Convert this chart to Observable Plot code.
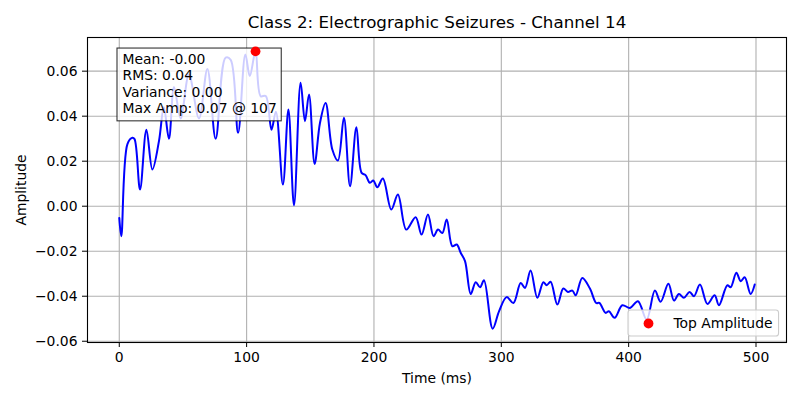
<!DOCTYPE html>
<html><head><meta charset="utf-8">
<script src="https://cdn.jsdelivr.net/npm/d3@7"></script>
<script src="https://cdn.jsdelivr.net/npm/@observablehq/plot@0.6"></script>
<style>body{margin:0;background:#fff;}</style>
</head><body><div id="chart"></div>
<script>
const titleText = "Class 2: Electrographic Seizures - Channel 14";
const xLabel = "Time (ms)";
const yLabel = "Amplitude";
const tMs = [0,1.6,6.4,10.3,12,16.3,21.3,26,31.2,35,39,43,48.2,54.7,62.6,69.2,75.7,83.5,87.5,93.3,99,102.5,107,111,115,119.5,123,128.5,132.8,137.2,142.4,145.8,149,153.4,157.6,162,167.3,171.7,176.4,181.2,186.2,190.3,193.4,196.8,199.5,202.6,207,213.6,218.8,225.4,232.7,237.4,242.4,246.8,250.3,253.7,257.1,261.6,265,268.1,271.5,276,279.9,283.3,286.4,293.2,298.2,304.2,309.5,315.2,318.6,323,328.3,333,335.6,338.7,344,348.7,352.3,355.8,358.4,363.6,369.6,374.5,377,381.9,384.5,389,395,401,407.3,414.1,420.6,425.1,431.2,435.6,439.5,443.4,447.9,451.3,456,461.8,467.5,470.9,477.5,480.1,484.6,488,491.1,495.8,499];
const amp = [-0.0052,-0.0133,0.0276,0.0304,0.0298,0.0074,0.034,0.0163,0.029,0.044,0.030,0.053,0.039,0.0585,0.039,0.061,0.030,0.066,0.065,0.0326,0.0674,0.0578,0.0688,0.0489,0.049,0.034,0.042,0.0096,0.043,0.0004,0.0548,0.0378,0.0496,0.0188,0.037,0.0459,0.0252,0.0203,0.0393,0.0089,0.0351,0.0148,0.0138,0.0104,0.0114,0.0084,0.0123,-0.0015,0.0052,-0.0104,-0.0049,-0.0126,-0.0037,-0.0133,-0.0104,-0.0119,-0.0059,-0.0178,-0.017,-0.0207,-0.0244,-0.039,-0.0338,-0.036,-0.0329,-0.0544,-0.0467,-0.0404,-0.043,-0.0341,-0.0363,-0.0286,-0.0407,-0.0338,-0.0351,-0.0336,-0.0437,-0.0366,-0.0381,-0.0375,-0.0396,-0.0319,-0.0366,-0.043,-0.043,-0.0474,-0.0467,-0.0496,-0.044,-0.0452,-0.0422,-0.0504,-0.0375,-0.0425,-0.0345,-0.0419,-0.039,-0.0407,-0.0381,-0.04,-0.0348,-0.0434,-0.0396,-0.044,-0.0351,-0.036,-0.0296,-0.0333,-0.0316,-0.039,-0.0348];
const xTicks = [0,100,200,300,400,500];
const yTicks = [-0.06,-0.04,-0.02,0,0.02,0.04,0.06];
const statsLines = ["Mean: -0.00","RMS: 0.04","Variance: 0.00","Max Amp: 0.07 @ 107"];
const legendLabels = ["Top Amplitude"];

const data = tMs.map((t,i)=>({t, a: amp[i]}));
const peak = data[d3.maxIndex(data, d=>d.a)];
const [ymin,ymax] = d3.extent(amp); const ypad = (ymax-ymin)*0.05;
const [xmin,xmax] = d3.extent(tMs); const xpad = (xmax-xmin)*0.05;
const font = "DejaVu Sans, sans-serif";
const fs = 13.9;

const svg = Plot.plot({
  width: 800, height: 400,
  marginLeft: 87, marginRight: 14, marginTop: 37, marginBottom: 58,
  style: {fontFamily: font, fontSize: fs+"px", background: "white", color: "black", overflow: "visible"},
  x: {domain: [xmin-xpad, xmax+xpad]},
  y: {domain: [ymin-ypad, ymax+ypad]},
  marks: [
    Plot.gridX(xTicks, {stroke: "#b0b0b0", strokeOpacity: 1, strokeWidth: 1.1}),
    Plot.gridY(yTicks, {stroke: "#b0b0b0", strokeOpacity: 1, strokeWidth: 1.1}),
    Plot.axisX(xTicks, {tickSize: 5, tickPadding: 5, fontSize: fs, label: null, stroke: "black", fill: "black"}),
    Plot.axisY(yTicks, {tickSize: 5, tickPadding: 5, fontSize: fs, label: null, tickFormat: d3.format(".2f"), stroke: "black", fill: "black"}),
    Plot.line(data, {x: "t", y: "a", stroke: "blue", strokeWidth: 2, curve: "catmull-rom"}),
    Plot.text([statsLines.join("\n")], {text: d=>d, frameAnchor: "top-left", dx: 35, dy: 15, lineAnchor: "top", textAnchor: "start", lineHeight: 1.17, fontSize: fs, fill: "black"}),
    Plot.dot([peak], {x: "t", y: "a", r: 4.9, fill: "red", stroke: "none"}),
    Plot.dot(legendLabels, {frameAnchor: "bottom-right", dx: -138, dy: -19, r: 4.9, fill: "red", stroke: "none"}),
    Plot.text(legendLabels, {text: d=>d, frameAnchor: "bottom-right", dx: -113, dy: -19, textAnchor: "start", lineAnchor: "middle", fontSize: fs, fill: "black"}),
    Plot.text([titleText], {text: d=>d, frameAnchor: "top", dy: -15, lineAnchor: "middle", fontSize: 16.7, fill: "black"}),
    Plot.text([xLabel], {text: d=>d, frameAnchor: "bottom", dy: 36, lineAnchor: "middle", fontSize: fs, fill: "black"}),
    Plot.text([yLabel], {text: d=>d, frameAnchor: "left", dx: -66, rotate: -90, lineAnchor: "middle", textAnchor: "middle", fontSize: fs, fill: "black"}),
    Plot.frame({stroke: "black", strokeWidth: 1.1})
  ]
});
document.getElementById("chart").append(svg);

const NS = "http://www.w3.org/2000/svg";
function topLevel(node) {
  while (node.parentNode && node.parentNode !== svg) node = node.parentNode;
  return node;
}
function boxBefore(node, x, y, w, h, attrs) {
  const r = document.createElementNS(NS, "rect");
  r.setAttribute("x", x); r.setAttribute("y", y);
  r.setAttribute("width", w); r.setAttribute("height", h);
  for (const k in attrs) r.setAttribute(k, attrs[k]);
  svg.insertBefore(r, node);
}
function findText(s) {
  return Array.from(svg.querySelectorAll("text")).find(t => t.textContent.includes(s));
}
function rectOf(el) {
  const s = svg.getBoundingClientRect(), r = el.getBoundingClientRect();
  return {x: r.left - s.left, y: r.top - s.top, width: r.width, height: r.height};
}
try {
  const st = findText(statsLines[0]);
  const b = rectOf(st);
  boxBefore(topLevel(st), b.x-5.5, b.y-3, b.width+10, b.height+8, {fill: "white", "fill-opacity": 0.8, stroke: "black", "stroke-opacity": 0.8, "stroke-width": 1.1});
  const lt = findText(legendLabels[0]);
  const lb = rectOf(lt);
  const lg = topLevel(lt);
  const dotG = lg.previousElementSibling || lg;
  const x0 = lb.x - 44.5, x1 = lb.x + lb.width + 6;
  const y0 = lb.y - 5, y1 = lb.y + lb.height + 5;
  boxBefore(dotG, x0, y0, x1-x0, y1-y0, {fill: "white", "fill-opacity": 0.8, stroke: "#cccccc", "stroke-width": 1.1, rx: 2.8});
} catch (e) {
  const p = document.createElement("pre"); p.textContent = String(e); document.body.append(p);
}
</script>
</body></html>
